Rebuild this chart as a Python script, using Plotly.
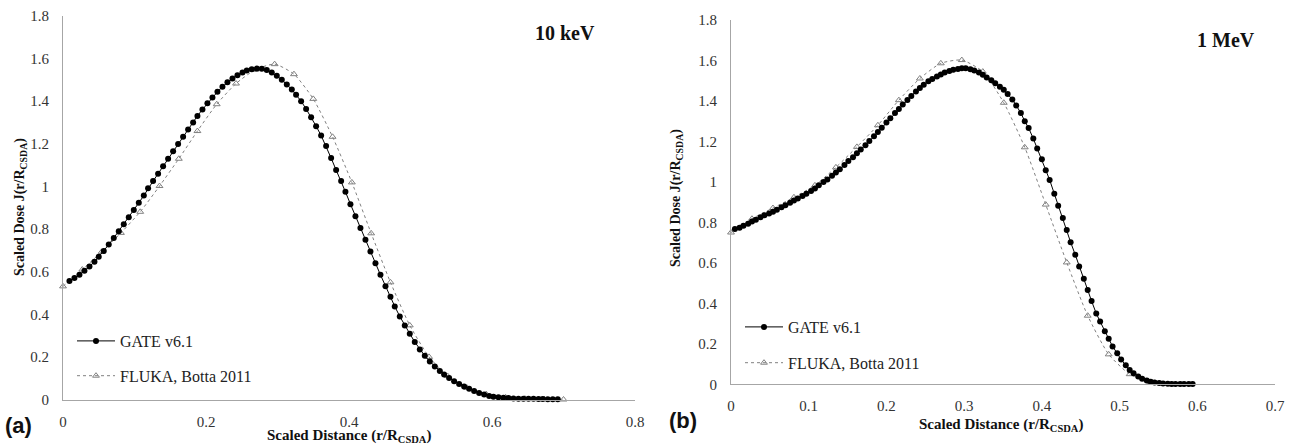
import plotly.graph_objects as go

# ---------------- Data: panel (a) 10 keV ----------------
gate_10kev_x = [
    0.009, 0.016, 0.023, 0.030, 0.037, 0.044, 0.050, 0.057, 0.064, 0.071,
    0.078, 0.085, 0.092, 0.099, 0.106, 0.113, 0.119, 0.126, 0.133, 0.140,
    0.147, 0.154, 0.161, 0.168, 0.175, 0.182, 0.188, 0.195, 0.202, 0.209,
    0.216, 0.223, 0.230, 0.237, 0.244, 0.251, 0.257, 0.264, 0.271, 0.278,
    0.285, 0.292, 0.299, 0.306, 0.313, 0.320, 0.326, 0.333, 0.340, 0.347,
    0.354, 0.361, 0.368, 0.375, 0.382, 0.389, 0.395, 0.402, 0.409, 0.416,
    0.423, 0.430, 0.437, 0.444, 0.451, 0.458, 0.464, 0.471, 0.478, 0.485,
    0.492, 0.499, 0.506, 0.513, 0.520, 0.527, 0.533, 0.540, 0.547, 0.554,
    0.561, 0.568, 0.575, 0.582, 0.589, 0.596, 0.602, 0.609, 0.616, 0.623,
    0.630, 0.637, 0.644, 0.651, 0.658, 0.665, 0.671, 0.678, 0.685, 0.692,
]
gate_10kev_y = [
    0.556, 0.570, 0.586, 0.604, 0.624, 0.646, 0.670, 0.697, 0.727, 0.758,
    0.790, 0.822, 0.855, 0.889, 0.923, 0.957, 0.991, 1.025, 1.060, 1.095,
    1.130, 1.165, 1.199, 1.233, 1.267, 1.300, 1.331, 1.361, 1.390, 1.418,
    1.444, 1.468, 1.489, 1.507, 1.522, 1.535, 1.544, 1.550, 1.553, 1.552,
    1.546, 1.535, 1.520, 1.501, 1.478, 1.455, 1.430, 1.400, 1.364, 1.325,
    1.283, 1.239, 1.190, 1.133, 1.077, 1.025, 0.975, 0.917, 0.860, 0.805,
    0.750, 0.695, 0.640, 0.585, 0.532, 0.482, 0.437, 0.390, 0.347, 0.309,
    0.270, 0.235, 0.205, 0.178, 0.155, 0.134, 0.117, 0.101, 0.086, 0.073,
    0.061, 0.050, 0.040, 0.031, 0.024, 0.017, 0.013, 0.011, 0.008, 0.007,
    0.005, 0.004, 0.004, 0.003, 0.003, 0.002, 0.002, 0.001, 0.001, 0.001,
]
fluka_10kev_x = [
    0.000, 0.027, 0.054, 0.081, 0.108, 0.135, 0.162, 0.188, 0.215, 0.242,
    0.269, 0.296, 0.323, 0.350, 0.377, 0.404, 0.431, 0.458, 0.485, 0.512,
    0.538, 0.565, 0.592, 0.619, 0.646, 0.673, 0.700,
]
fluka_10kev_y = [
    0.531, 0.610, 0.693, 0.782, 0.881, 1.002, 1.130, 1.260, 1.386, 1.483,
    1.548, 1.574, 1.527, 1.411, 1.233, 1.019, 0.780, 0.550, 0.348, 0.200,
    0.110, 0.055, 0.025, 0.010, 0.004, 0.002, 0.000,
]

# ---------------- Data: panel (b) 1 MeV ----------------
gate_1mev_x = [
    0.005, 0.011, 0.016, 0.022, 0.027, 0.032, 0.038, 0.043, 0.049, 0.054,
    0.059, 0.065, 0.070, 0.076, 0.081, 0.086, 0.092, 0.097, 0.103, 0.108,
    0.113, 0.119, 0.124, 0.130, 0.135, 0.140, 0.146, 0.151, 0.157, 0.162,
    0.167, 0.173, 0.178, 0.184, 0.189, 0.194, 0.200, 0.205, 0.211, 0.216,
    0.221, 0.227, 0.232, 0.238, 0.243, 0.248, 0.254, 0.259, 0.265, 0.270,
    0.275, 0.281, 0.286, 0.292, 0.297, 0.302, 0.308, 0.313, 0.319, 0.324,
    0.329, 0.335, 0.340, 0.346, 0.351, 0.356, 0.362, 0.367, 0.373, 0.378,
    0.383, 0.389, 0.394, 0.400, 0.405, 0.410, 0.416, 0.421, 0.427, 0.432,
    0.437, 0.443, 0.448, 0.454, 0.459, 0.464, 0.470, 0.475, 0.481, 0.486,
    0.491, 0.497, 0.502, 0.508, 0.513, 0.518, 0.524, 0.529, 0.535, 0.540,
    0.545, 0.551, 0.556, 0.562, 0.567, 0.572, 0.578, 0.583, 0.589, 0.594,
]
gate_1mev_y = [
    0.767, 0.773, 0.784, 0.793, 0.805, 0.813, 0.826, 0.835, 0.844, 0.852,
    0.863, 0.875, 0.885, 0.897, 0.908, 0.918, 0.930, 0.942, 0.955, 0.968,
    0.983, 0.999, 1.012, 1.030, 1.046, 1.062, 1.083, 1.103, 1.122, 1.141,
    1.160, 1.181, 1.202, 1.225, 1.246, 1.268, 1.294, 1.315, 1.340, 1.360,
    1.382, 1.405, 1.425, 1.447, 1.464, 1.480, 1.497, 1.509, 1.521, 1.531,
    1.540, 1.548, 1.554, 1.558, 1.561, 1.561, 1.557, 1.551, 1.540, 1.530,
    1.516, 1.502, 1.488, 1.470, 1.455, 1.434, 1.407, 1.378, 1.340, 1.300,
    1.266, 1.214, 1.165, 1.112, 1.058, 1.010, 0.942, 0.882, 0.822, 0.762,
    0.702, 0.640, 0.582, 0.522, 0.466, 0.411, 0.350, 0.310, 0.262, 0.225,
    0.187, 0.153, 0.122, 0.094, 0.071, 0.054, 0.038, 0.027, 0.019, 0.013,
    0.009, 0.006, 0.004, 0.003, 0.002, 0.002, 0.001, 0.001, 0.001, 0.001,
]
fluka_1mev_x = [
    0.000, 0.027, 0.054, 0.081, 0.108, 0.135, 0.162, 0.189, 0.216, 0.243,
    0.270, 0.297, 0.324, 0.351, 0.378, 0.405, 0.432, 0.459, 0.486, 0.513,
    0.540, 0.567,
]
fluka_1mev_y = [
    0.750, 0.818, 0.871, 0.924, 0.983, 1.072, 1.173, 1.280, 1.404, 1.511,
    1.586, 1.602, 1.545, 1.391, 1.171, 0.888, 0.602, 0.339, 0.148, 0.050,
    0.010, 0.001,
]

series_names = ["GATE v6.1", "FLUKA, Botta 2011"]
energy_labels = ["10 keV", "1 MeV"]
panel_labels = ["(a)", "(b)"]

W, H = 1293, 444
SERIF = "Liberation Serif"
SANS = "Liberation Sans"
GREY = "#808080"

fig = go.Figure()

panels = [
    (fluka_10kev_x, fluka_10kev_y, gate_10kev_x, gate_10kev_y, "x", "y", "legend"),
    (fluka_1mev_x, fluka_1mev_y, gate_1mev_x, gate_1mev_y, "x2", "y2", "legend2"),
]
for fx, fy, gx, gy, xa, ya, lg in panels:
    fig.add_trace(go.Scatter(
        x=fx, y=fy, mode="lines+markers", name=series_names[1],
        xaxis=xa, yaxis=ya, legend=lg, legendgroup="f", legendrank=2,
        line=dict(color=GREY, width=1, dash="dot", shape="spline", smoothing=0.6),
        marker=dict(symbol="triangle-up-open", size=6, color=GREY, line=dict(width=1, color=GREY)),
        cliponaxis=False,
    ))
    fig.add_trace(go.Scatter(
        x=gx, y=gy, mode="lines+markers", name=series_names[0],
        xaxis=xa, yaxis=ya, legend=lg, legendgroup="g", legendrank=1,
        line=dict(color="black", width=1),
        marker=dict(symbol="circle", size=6, color="black"),
        cliponaxis=False,
    ))

def px(v):
    return v / W

def py(v):
    return 1 - v / H

axis_common = dict(
    showline=True, linecolor="#a6a6a6", linewidth=1, showgrid=False,
    zeroline=False, ticks="", mirror=False, automargin=False,
    tickfont=dict(family=SERIF, size=15, color="#333333"),
)

fig.update_layout(
    width=W, height=H, autosize=False,
    font=dict(family=SERIF, size=15, color="#222222"),
    margin=dict(l=0, r=0, t=0, b=0, autoexpand=False),
    paper_bgcolor="white", plot_bgcolor="white",
    showlegend=True,
    xaxis=dict(domain=[px(63), px(635)], range=[0, 0.8], dtick=0.2, tick0=0,
               anchor="y", ticklabelstandoff=8, **axis_common),
    yaxis=dict(domain=[py(399.5), py(16)], range=[0, 1.8], dtick=0.2, tick0=0,
               anchor="x", ticklabelstandoff=10, **axis_common),
    xaxis2=dict(domain=[px(731), px(1275)], range=[0, 0.7], dtick=0.1, tick0=0,
                anchor="y2", ticklabelstandoff=8, **axis_common),
    yaxis2=dict(domain=[py(384.3), py(20)], range=[0, 1.8], dtick=0.2, tick0=0,
                anchor="x2", ticklabelstandoff=10, **axis_common),
    legend=dict(x=px(72), y=py(324), xanchor="left", yanchor="top",
                bgcolor="rgba(0,0,0,0)", borderwidth=0,
                font=dict(family=SERIF, size=16, color="#222222"),
                traceorder="grouped", tracegroupgap=11, itemwidth=38),
    legend2=dict(x=px(740), y=py(310), xanchor="left", yanchor="top",
                 bgcolor="rgba(0,0,0,0)", borderwidth=0,
                 font=dict(family=SERIF, size=16, color="#222222"),
                 traceorder="grouped", tracegroupgap=12, itemwidth=38),
)

def label(text, x, y, size, family, angle=0):
    return dict(text=text, x=px(x), y=py(y), xref="paper", yref="paper",
                xanchor="center", yanchor="middle", textangle=angle,
                showarrow=False, font=dict(family=family, size=size, color="#111111"))

ytitle = "<b>Scaled Dose J(r/R<sub>CSDA</sub>)</b>"
xtitle = "<b>Scaled Distance (r/R<sub>CSDA</sub>)</b>"
ann = [
    label("<b>" + energy_labels[0] + "</b>", 565, 33, 20, SERIF),
    label("<b>" + energy_labels[1] + "</b>", 1226, 40, 20, SERIF),
    label("<b>" + panel_labels[0] + "</b>", 18, 425, 22, SANS),
    label("<b>" + panel_labels[1] + "</b>", 683, 420, 22, SANS),
    label(ytitle, 20, 207, 14, SERIF, -90),
    label(ytitle, 676, 198, 14, SERIF, -90),
    label(xtitle, 349, 436, 15, SERIF),
    label(xtitle, 1001, 425, 15, SERIF),
]
fig.update_layout(annotations=ann)

fig.write_html(
    "out.html",
    config={"displayModeBar": False, "staticPlot": True},
    post_script="document.body.style.margin='0';document.body.style.overflow='hidden';",
)
